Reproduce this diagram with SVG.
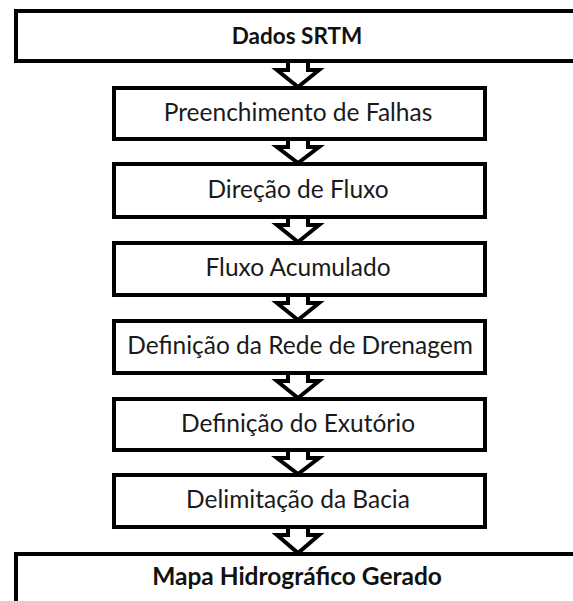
<svg xmlns="http://www.w3.org/2000/svg" width="573" height="601" viewBox="0 0 573 601">
<style>
.box{fill:#fff;stroke:#000;stroke-width:4}
.arr{fill:#fff;stroke:#000;stroke-width:4;stroke-linejoin:miter}
.t{font-family:Lato,"Open Sans",sans-serif;font-size:24.5px;fill:#1a1a1a;text-anchor:middle}
.b{font-family:Lato,"Open Sans",sans-serif;font-weight:bold;fill:#111;text-anchor:middle}
</style>
<rect width="573" height="601" fill="#fff"/>
<g id="connectors">
<path class="arr" d="M288,60 V70 H277 L298,87 L319,70 H308 V60"/>
<path class="arr" d="M288,138 V147 H277 L298,163 L319,147 H308 V138"/>
<path class="arr" d="M288,216 V225 H277 L298,242 L319,225 H308 V216"/>
<path class="arr" d="M288,294 V303 H277 L298,320 L319,303 H308 V294"/>
<path class="arr" d="M288,372 V381 H277 L298,398 L319,381 H308 V372"/>
<path class="arr" d="M288,449 V458 H277 L298,474 L319,458 H308 V449"/>
<path class="arr" d="M288,526 V535 H277 L298,553 L319,535 H308 V526"/>
</g>
<g id="n1"><rect class="box" x="16" y="11" width="600" height="50"/><text class="b" x="297" y="44" font-size="22.5">Dados SRTM</text></g>
<g id="n2"><rect class="box" x="114" y="88" width="371" height="51"/><text class="t" x="298" y="121">Preenchimento de Falhas</text></g>
<g id="n3"><rect class="box" x="114" y="164" width="371" height="53"/><text class="t" x="298" y="198">Direção de Fluxo</text></g>
<g id="n4"><rect class="box" x="114" y="243" width="371" height="52"/><text class="t" x="298" y="276">Fluxo Acumulado</text></g>
<g id="n5"><rect class="box" x="114" y="321" width="371" height="52"/><text class="t" x="300" y="354">Definição da Rede de Drenagem</text></g>
<g id="n6"><rect class="box" x="114" y="399" width="371" height="51"/><text class="t" x="298" y="432">Definição do Exutório</text></g>
<g id="n7"><rect class="box" x="114" y="475" width="371" height="52"/><text class="t" x="298" y="508">Delimitação da Bacia</text></g>
<g id="n8"><rect class="box" x="16" y="554" width="600" height="80"/><text class="b" x="297" y="585" font-size="24.5">Mapa Hidrográfico Gerado</text></g>
</svg>
